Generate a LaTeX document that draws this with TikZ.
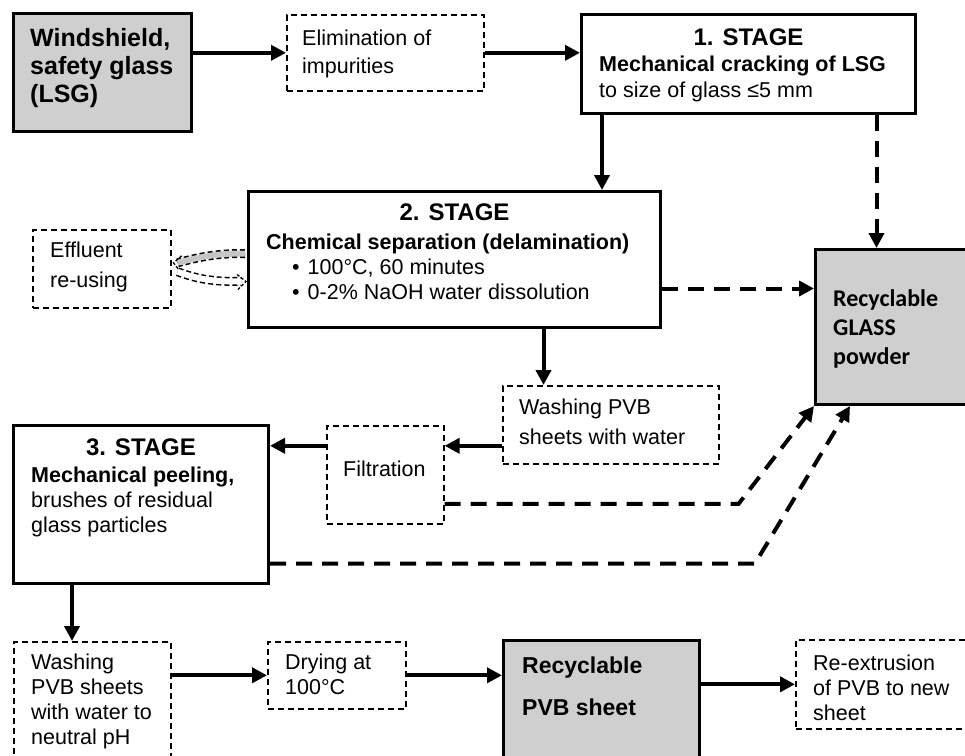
\documentclass[tikz,border=0pt]{standalone}
\usepackage{fontspec}
\setmainfont{Liberation Sans}
\newfontfamily\glassfont{Carlito}
\usetikzlibrary{arrows.meta}

\tikzset{
  solidbox/.style={draw, line width=3pt, rectangle, inner sep=0pt, anchor=north west},
  graybox/.style={solidbox, fill=gray!38},
  dashbox/.style={draw, line width=1.6pt, dash pattern=on 6pt off 4pt, rectangle, inner sep=0pt, anchor=north west},
  txt/.style={inner sep=0pt, anchor=north west, align=left, font=\fontsize{21.5}{25}\selectfont},
  ttl/.style={inner sep=0pt, anchor=north, font=\bfseries\fontsize{24}{26}\selectfont},
  flow/.style={line width=4pt, -{Triangle[length=15pt,width=15pt]}},
  glassflow/.style={line width=4pt, dash pattern=on 16pt off 10pt, -{Triangle[length=15pt,width=15pt]}},
  band/.style={line width=9pt, dash pattern=on 5pt off 3pt},
}

\begin{document}
\begin{tikzpicture}[x=1pt,y=-1pt]
\useasboundingbox (0,0) rectangle (965,755);

% boxes
\node[graybox, minimum width=178pt, minimum height=118pt] (wind) at (12,12) {};
\node[dashbox, minimum width=197pt, minimum height=76pt] (elim) at (286,14) {};
\node[solidbox, minimum width=334pt, minimum height=99pt] (s1) at (580,13) {};
\node[solidbox, minimum width=412pt, minimum height=136pt] (s2) at (247,190) {};
\node[dashbox, minimum width=138pt, minimum height=78pt] (effl) at (32,229) {};
\node[graybox, minimum width=160pt, minimum height=155pt] (glass) at (814,248) {};
\node[dashbox, minimum width=216pt, minimum height=78pt] (wash) at (502,385) {};
\node[dashbox, minimum width=117pt, minimum height=98pt] (filt) at (326,425) {};
\node[solidbox, minimum width=255pt, minimum height=158pt] (s3) at (12,424) {};
\node[dashbox, minimum width=157pt, minimum height=130pt] (wash2) at (13,641) {};
\node[dashbox, minimum width=138pt, minimum height=67pt] (dry) at (267,641) {};
\node[graybox, minimum width=196pt, minimum height=130pt] (pvb) at (502,639) {};
\node[dashbox, minimum width=185pt, minimum height=89pt] (reext) at (795,639) {};

% texts
\node[txt, font=\bfseries\fontsize{25}{28}\selectfont] (windtxt) at ([shift={(18,16)}]wind.north west) {Windshield,\\safety glass\\(LSG)};
\node[txt, font=\fontsize{21.5}{28}\selectfont] (elimtxt) at ([shift={(16,16)}]elim.north west) {Elimination of\\impurities};
\node[ttl] (s1ttl) at ([yshift=-16pt]s1.north) {1. STAGE};
\node[txt, font=\fontsize{21.5}{26}\selectfont] (s1txt) at ([shift={(19,43)}]s1.north west) {\textbf{Mechanical cracking of LSG}\\to size of glass ≤5 mm};
\node[ttl] (s2ttl) at ([yshift=-14pt]s2.north) {2. STAGE};
\node[txt] (s2txt) at ([shift={(19,44)}]s2.north west) {\textbf{Chemical separation (delamination)}\\\hspace*{26pt}\textbullet\hspace{8pt}100°C, 60 minutes\\\hspace*{26pt}\textbullet\hspace{8pt}0-2\% NaOH water dissolution};
\node[txt, font=\fontsize{21.5}{30}\selectfont] (effltxt) at ([shift={(18,13)}]effl.north west) {Effluent\\re-using};
\node[txt, font=\glassfont\bfseries\fontsize{24}{29}\selectfont] (glasstxt) at ([shift={(19,41)}]glass.north west) {Recyclable\\GLASS\\powder};
\node[txt, font=\fontsize{21.5}{30}\selectfont] (washtxt) at ([shift={(17,14)}]wash.north west) {Washing PVB\\sheets with water};
\node[txt] (filttxt) at ([shift={(17,36)}]filt.north west) {Filtration};
\node[ttl] (s3ttl) at ([yshift=-15pt]s3.north) {3. STAGE};
\node[txt] (s3txt) at ([shift={(19,43)}]s3.north west) {\textbf{Mechanical peeling,}\\brushes of residual\\glass particles};
\node[txt] (wash2txt) at ([shift={(18,13)}]wash2.north west) {Washing\\PVB sheets\\with water to\\neutral pH};
\node[txt] (drytxt) at ([shift={(18,13)}]dry.north west) {Drying at\\100°C};
\node[txt, font=\bfseries\fontsize{23}{42}\selectfont] (pvbtxt) at ([shift={(20,18)}]pvb.north west) {Recyclable\\PVB sheet};
\node[txt] (reexttxt) at ([shift={(18,16)}]reext.north west) {Re-extrusion\\of PVB to new\\sheet};

% main flow
\draw[flow] (wind.east |- elim.west) -- (elim.west);
\draw[flow] (elim.east) -- (elim.east -| s1.west);
\draw[flow] ([xshift=22pt]s1.south west) -- ([xshift=22pt]s1.south west |- s2.north);
\draw[flow] ([xshift=89pt]s2.south) -- ([xshift=89pt]s2.south |- wash.north);
\draw[flow] ([yshift=-21pt]wash.west) -- ([yshift=-21pt]wash.west -| filt.east);
\draw[flow] ([yshift=-21pt]wash.west -| filt.west) -- ([yshift=-21pt]wash.west -| s3.east);
\draw[flow] ([xshift=60pt]s3.south west) -- ([xshift=60pt]s3.south west |- wash2.north);
\draw[flow] (wash2.east |- dry.west) -- (dry.west);
\draw[flow] (dry.east) -- (dry.east -| pvb.west);
\draw[flow] (pvb.east |- reext.west) -- (reext.west);

% glass to powder
\draw[glassflow] ([xshift=-19pt]glass.north |- s1.south) -- ([xshift=-19pt]glass.north);
\draw[glassflow] ([yshift=-29pt]s2.east) -- ([yshift=-29pt]s2.east -| glass.west);
\draw[glassflow] ([yshift=-29pt]filt.east) -- ++(294,0) -- (glass.south west);
\draw[glassflow] ([yshift=-59pt]s3.east) -- ++(485,0) -- ([xshift=36pt]glass.south west);

% effluent loop
\draw[band] ([shift={(-2,-6)}]s2.west) to[out=180, in=15] ([shift={(6,-6)}]effl.east);
\draw[line width=6pt, gray!45] ([shift={(-2,-6)}]s2.west) to[out=180, in=15] ([shift={(6,-6)}]effl.east);
\draw[line width=1.3pt, dash pattern=on 3pt off 2pt] ([shift={(10,-13)}]effl.east) -- ([shift={(2,-6)}]effl.east) -- ([shift={(8,2)}]effl.east);
\draw[band] ([shift={(6,3)}]effl.east) to[out=-20, in=180] ([shift={(-6,22)}]s2.west);
\draw[line width=6pt, white] ([shift={(6,3)}]effl.east) to[out=-20, in=180] ([shift={(-6,22)}]s2.west);
\draw[line width=1.3pt, dash pattern=on 3pt off 2pt] ([shift={(-10,15)}]s2.west) -- ([shift={(-1,22)}]s2.west) -- ([shift={(-9,30)}]s2.west);
\end{tikzpicture}
\end{document}
